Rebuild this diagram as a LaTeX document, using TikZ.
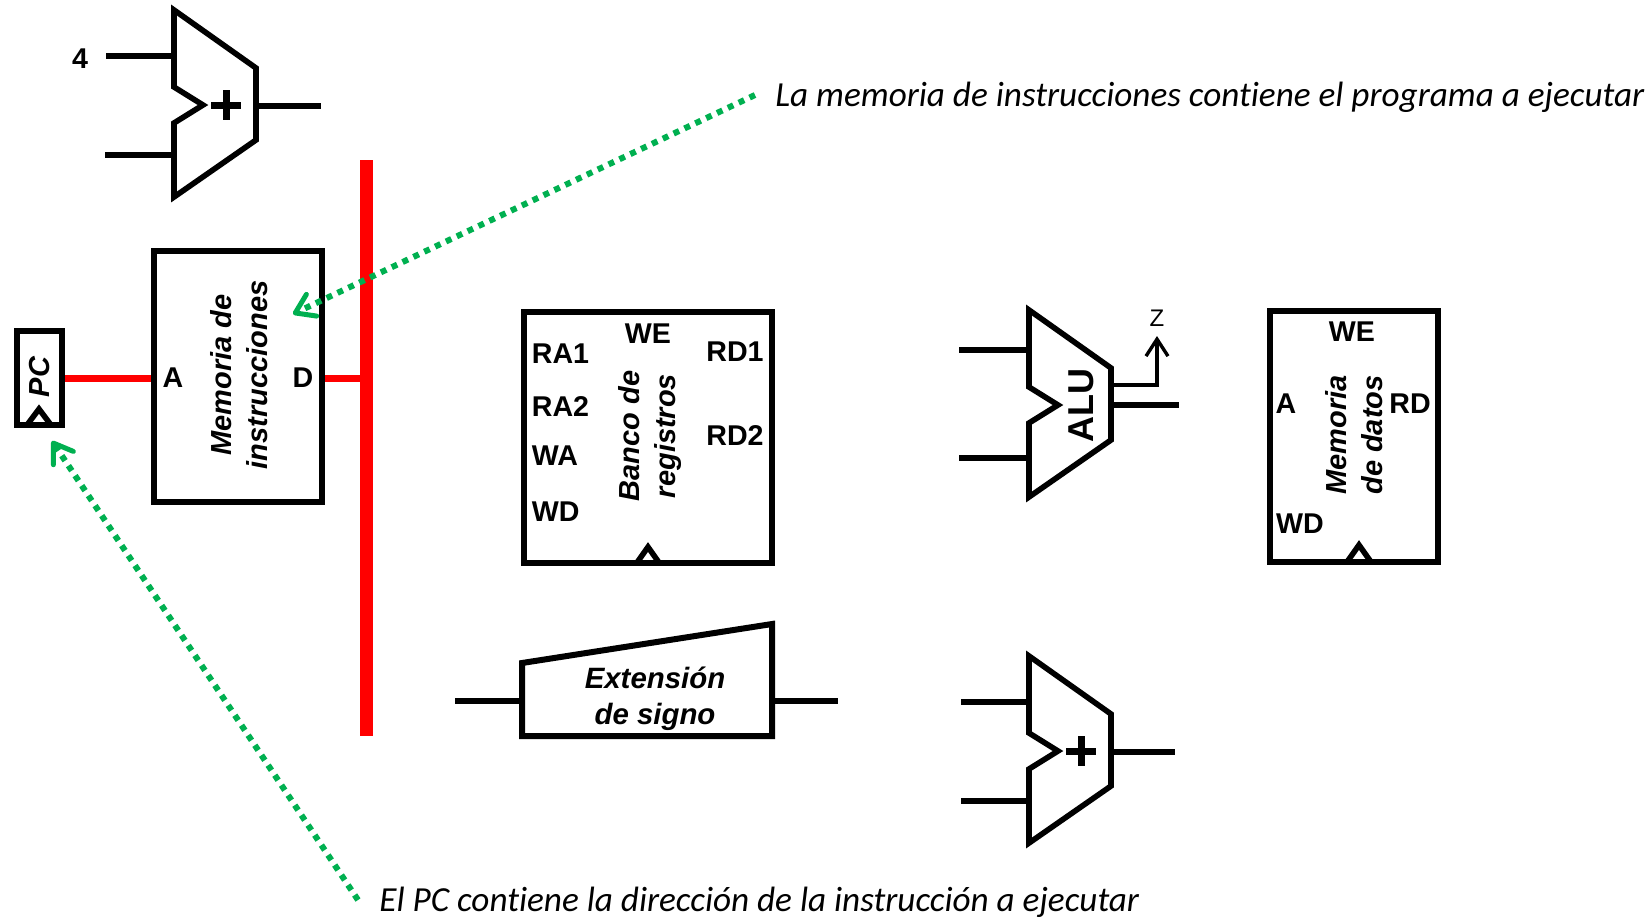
\documentclass[tikz,border=0pt]{standalone}
\usepackage{fontspec}
\setmainfont{Liberation Sans}
\newfontfamily\calibrifont{Carlito}[Ligatures=NoCommon]
\usetikzlibrary{arrows.meta}
\definecolor{notegreen}{RGB}{0,176,80}
\tikzset{
  bus/.style={draw=red,line width=3.5pt},
  wire/.style={draw=black,line width=2.8pt},
  box/.style={draw=black,line width=3pt,inner sep=0pt},
  lab/.style={inner sep=0pt,font=\fontsize{14.3}{14.3}\selectfont\bfseries},
  rotlab/.style={inner sep=0pt,rotate=90,align=center,font=\fontsize{14.5}{18}\selectfont\bfseries\itshape},
  note/.style={inner sep=0pt,anchor=west,font=\calibrifont\fontsize{17.6}{18}\selectfont\itshape},
  notearrow/.style={draw=notegreen,line width=3pt,dash pattern=on 3pt off 3pt,
    -{Straight Barb[length=9pt,width=12pt,line width=2.5pt,round]}},
  clock/.style={draw=black,line width=2.8pt,line join=miter},
  adderbody/.pic={
    \draw[wire,line join=miter,miter limit=10] (0,0) -- (82,58) -- (82,130) -- (0,187) -- (0,113) -- (29,95) -- (0,77) -- cycle;
    \coordinate (-in1) at (0,46);
    \coordinate (-in2) at (0,145);
    \coordinate (-out) at (82,96);
  },
}
\begin{document}
\begin{tikzpicture}[x=0.5pt,y=-0.5pt]
\useasboundingbox (0,0) rectangle (1650,918);

% top adder
\pic (addA) at (174,10) {adderbody};
\coordinate (a1s) at (106,56);
\coordinate (a2s) at (105,155);
\coordinate (aoe) at (321,106);
\draw[wire] (a1s) -- (a1s -| addA-in1);
\draw[wire] (a2s) -- (a2s -| addA-in2);
\draw[wire] (addA-out |- aoe) -- (aoe);
\draw[line width=3.5pt] (211,105) -- (241,105);
\draw[line width=3.5pt] (226,90) -- (226,120);
\node[lab] (four) at (80,59) {4};

% red bus
\coordinate (busT) at (366.5,160);
\coordinate (busB) at (366.5,736);
\draw[draw=red,line width=6.5pt] (busT) -- (busB);

% PC
\node[box,minimum width=22.5pt,minimum height=47pt] (pc) at (39.5,378) {};
\node[inner sep=0pt,rotate=90,font=\fontsize{14.5}{15}\selectfont\bfseries\itshape] (pclab) at (40,377) {PC};
\draw[clock] (27,425) -- (39,409) -- (51,425);

% instruction memory
\node[box,minimum width=84pt,minimum height=125.5pt] (im) at (238,376.5) {};
\node[rotlab] (imlab) at (239,375) {Memoria de\\instrucciones};
\node[lab] (ima) at (173,378) {A};
\node[lab] (imd) at (303,378) {D};
\draw[bus] (pc.east) -- (pc.east -| im.west);
\draw[bus] (im.east |- pc.east) -- (busT |- pc.east);

% register file
\node[box,minimum width=124pt,minimum height=125.5pt] (rf) at (648,437.5) {};
\node[rotlab] (rflab) at (649.5,436) {Banco de\\registros};
\node[lab] (rfwe) at (648,334) {WE};
\node[lab,anchor=west] (ra1) at (531.5,354) {RA1};
\node[lab,anchor=west] (ra2) at (531.5,407) {RA2};
\node[lab,anchor=west] (wa) at (531.5,456) {WA};
\node[lab,anchor=west] (wd) at (531.5,512) {WD};
\node[lab,anchor=west] (rd1) at (706,352) {RD1};
\node[lab,anchor=west] (rd2) at (706,436) {RD2};
\draw[clock] (636,564) -- (648,547) -- (660,564);

% sign extension
\coordinate (seTL) at (522,663);
\coordinate (seTR) at (772,624);
\coordinate (seBR) at (772,736);
\coordinate (seBL) at (522,736);
\draw[wire,line width=3pt] (seTL) -- (seTR) -- (seBR) -- (seBL) -- cycle;
\node[inner sep=0pt,align=center,font=\fontsize{14.7}{18}\selectfont\bfseries\itshape] (selab) at (655,699) {Extensión\\de signo};
\coordinate (sein) at (455,701);
\coordinate (seout) at (838,701);
\draw[wire] (sein) -- (sein -| seBL);
\draw[wire] (seBR |- seout) -- (seout);

% ALU
\pic (alu) at (1029,310) {adderbody};
\coordinate (alu1s) at (959,350);
\coordinate (alu2s) at (959,458);
\coordinate (aluoe) at (1179,405);
\coordinate (zstart) at (1111,385);
\coordinate (zcorner) at (1157,385);
\coordinate (ztip) at (1157,336);
\draw[wire] (alu1s) -- (alu1s -| alu-in1);
\draw[wire] (alu2s) -- (alu2s -| alu-in2);
\draw[wire] (alu-out |- aluoe) -- (aluoe);
\draw[line width=1.7pt,-{Straight Barb[length=8.5pt,width=11pt,line width=1.7pt]}] (zstart) -- (zcorner) -- (ztip);
\node[inner sep=0pt,rotate=90,font=\fontsize{18}{18}\selectfont\bfseries] (alulab) at (1081,405) {ALU};
\node[inner sep=0pt,font=\fontsize{12}{12}\selectfont] (zlab) at (1157,318) {Z};

% data memory
\node[box,minimum width=84pt,minimum height=125.5pt] (dm) at (1354,436.5) {};
\node[rotlab] (dmlab) at (1354,435) {Memoria\\de datos};
\node[lab] (dmwe) at (1352,332) {WE};
\node[lab] (dma) at (1286,404) {A};
\node[lab] (dmrd) at (1410,404) {RD};
\node[lab] (dmwd) at (1300,523.5) {WD};
\draw[clock] (1347,562) -- (1359,545) -- (1371,562);

% bottom adder
\pic (addB) at (1029,656) {adderbody};
\coordinate (b1s) at (961,702);
\coordinate (b2s) at (961,801);
\coordinate (boe) at (1175,752);
\draw[wire] (b1s) -- (b1s -| addB-in1);
\draw[wire] (b2s) -- (b2s -| addB-in2);
\draw[wire] (addB-out |- boe) -- (boe);
\draw[line width=3.5pt] (1066,751) -- (1096,751);
\draw[line width=3.5pt] (1081,736) -- (1081,766);

% notes
\node[note] (n1) at (775,97) {La memoria de instrucciones contiene el programa a ejecutar};
\node[note] (n2) at (379,902.5) {El PC contiene la dirección de la instrucción a ejecutar};
\coordinate (n1s) at (755,95);
\coordinate (n1e) at (293,314);
\coordinate (n2s) at (358,900);
\coordinate (n2e) at (52,441);
\draw[notearrow] (n1s) -- (n1e);
\draw[notearrow] (n2s) -- (n2e);
\end{tikzpicture}
\end{document}
